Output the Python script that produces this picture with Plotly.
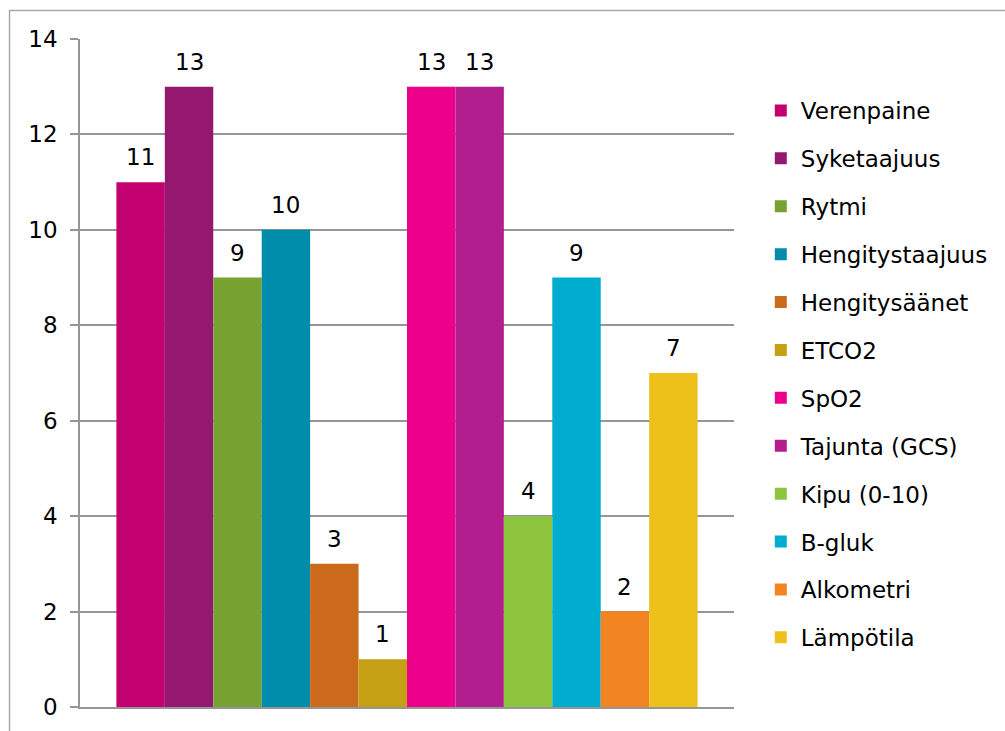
import plotly.graph_objects as go

# Measured parameters and their counts
categories = [
    "Verenpaine", "Syketaajuus", "Rytmi", "Hengitystaajuus", "Hengitysäänet",
    "ETCO2", "SpO2", "Tajunta (GCS)", "Kipu (0-10)", "B-gluk", "Alkometri", "Lämpötila",
]
counts = [11, 13, 9, 10, 3, 1, 13, 13, 4, 9, 2, 7]
colors = [
    "#C3006F", "#951870", "#77A232", "#008CAB", "#CB6A1A", "#C6A014",
    "#EC008C", "#B31E8E", "#8DC53F", "#00ADCE", "#F38422", "#EDC11A",
]
y_ticks = [0, 2, 4, 6, 8, 10, 12, 14]

FONT = "DejaVu Sans"
FS = 23
GRID = "#969696"

W, H = 1005, 731
ML, MR, MT, MB = 80, W - 739, 39, H - 707

fig = go.Figure()
for i, (name, val, col) in enumerate(zip(categories, counts, colors)):
    fig.add_trace(go.Bar(
        x=[i], y=[val], width=1, name=name, legendgroup=name,
        marker=dict(color=col, line=dict(width=0)),
        hoverinfo="name+y",
    ))
    fig.add_annotation(
        x=i, y=val, text=str(val), showarrow=False,
        yanchor="bottom", yshift=10,
        font=dict(family=FONT, size=FS, color="#000000"),
    )

fig.update_layout(
    width=W, height=H,
    margin=dict(l=ML, r=MR, t=MT, b=MB, pad=0),
    paper_bgcolor="white", plot_bgcolor="white",
    barmode="overlay",
    font=dict(family=FONT, size=FS, color="#000000"),
    showlegend=True,
    legend=dict(
        x=(766 - ML) / (W - ML - MR), xanchor="left",
        y=1 - (89 - MT) / (H - MT - MB), yanchor="top",
        font=dict(family=FONT, size=FS, color="#000000"),
        tracegroupgap=15, bgcolor="rgba(0,0,0,0)", borderwidth=0,
    ),
    xaxis=dict(
        range=[-1.2515, 11.2515 + 1], showticklabels=False, ticks="",
        showgrid=False, zeroline=False, showline=True, linecolor=GRID, linewidth=1.5,
        fixedrange=True,
    ),
    yaxis=dict(
        range=[0, 14], tickvals=y_ticks, ticks="outside", ticklen=8,
        tickcolor=GRID, tickwidth=1.5, ticklabelstandoff=8,
        showgrid=True, gridcolor=GRID, gridwidth=1.5,
        zeroline=False, showline=True, linecolor=GRID, linewidth=1.5,
        tickfont=dict(family=FONT, size=FS, color="#000000"),
        fixedrange=True,
    ),
    shapes=[dict(
        type="rect", xref="paper", yref="paper",
        x0=(9 - ML) / (W - ML - MR), x1=1.6,
        y0=-0.2, y1=(H - MB - 10.5) / (H - MT - MB),
        line=dict(color="#a8a8a8", width=1.5), fillcolor="rgba(0,0,0,0)", layer="below",
    )],
)

fig.write_html("out.html")
